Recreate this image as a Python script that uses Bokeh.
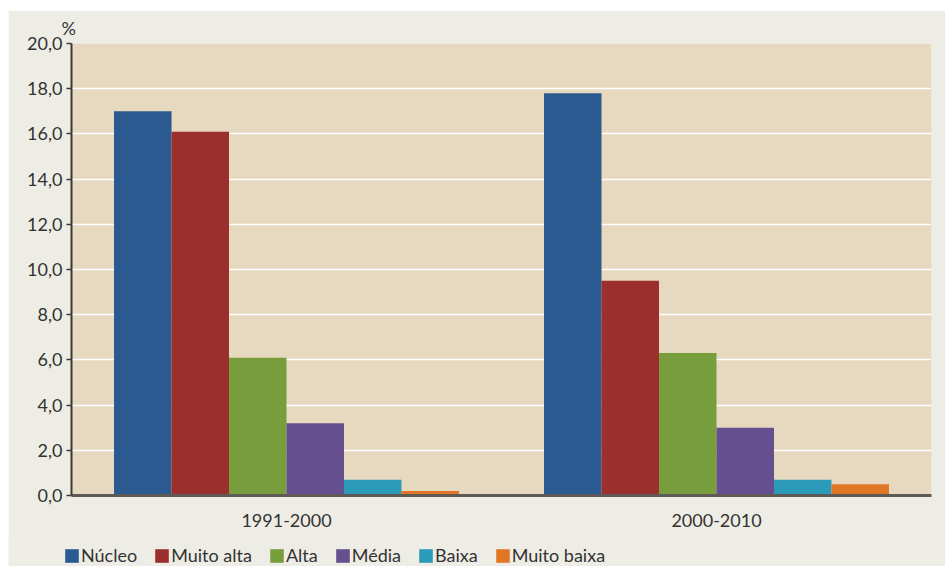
from bokeh.plotting import figure
from bokeh.models import ColumnDataSource, FactorRange, Range1d, Legend, LegendItem, Title, FixedTicker
from bokeh.transform import dodge
from bokeh.embed import file_html
from bokeh.resources import INLINE

periods = ["1991-2000", "2000-2010"]
series = ["Núcleo", "Muito alta", "Alta", "Média", "Baixa", "Muito baixa"]
nucleo = [17.0, 17.8]
muito_alta = [16.1, 9.5]
alta = [6.1, 6.3]
media = [3.2, 3.0]
baixa = [0.7, 0.7]
muito_baixa = [0.2, 0.5]
colors = ["#2A5A8F", "#9B2F2E", "#789D3D", "#654F8E", "#2B9BB9", "#E07626"]
y_ticks = [0, 2, 4, 6, 8, 10, 12, 14, 16, 18, 20]

values = [nucleo, muito_alta, alta, media, baixa, muito_baixa]
src = ColumnDataSource(dict(period=periods, **{f"s{i}": v for i, v in enumerate(values)}))

FONT = "Lato"
BG = "#EEEDE5"
p = figure(x_range=FactorRange(*periods, range_padding=0), y_range=Range1d(0, 20),
           frame_width=860, frame_height=452, margin=(10, 0, 0, 8),
           min_border_left=63, min_border_right=14, min_border_top=33, min_border_bottom=40,
           output_backend="svg", toolbar_location=None,
           background_fill_color="#E7D9BF", border_fill_color=BG, outline_line_color=None)

w = 0.1337
for i, name in enumerate(series):
    off = (i - 2.5) * w
    p.vbar(x=dodge("period", off, range=p.x_range), top=f"s{i}", width=w, source=src,
           fill_color=colors[i], line_color=None)

p.xgrid.grid_line_color = None
p.ygrid.grid_line_color = "white"
p.ygrid.grid_line_width = 1.5
p.ygrid.ticker = FixedTicker(ticks=y_ticks)

ya = p.yaxis[0]
ya.ticker = FixedTicker(ticks=y_ticks)
ya.major_label_overrides = {t: f"{t:.1f}".replace(".", ",") for t in y_ticks}
ya.axis_line_color = "#3a3a3a"
ya.axis_line_width = 2
ya.major_tick_line_color = "#3a3a3a"
ya.major_tick_line_width = 1.5
ya.major_tick_out = 5
ya.major_tick_in = 0
ya.minor_tick_line_color = None
ya.major_label_text_font = FONT
ya.major_label_text_font_size = "18px"
ya.major_label_text_color = "#333333"
ya.major_label_standoff = 4

xa = p.xaxis[0]
xa.axis_line_color = "#5f5a55"
xa.axis_line_width = 3
xa.major_tick_line_color = None
xa.minor_tick_line_color = None
xa.major_label_text_font = FONT
xa.major_label_text_font_size = "18px"
xa.major_label_text_color = "#333333"
xa.major_label_standoff = 12

p.add_layout(Title(text="%", align="left", offset=-10, standoff=9, text_font=FONT,
                   text_font_size="18px", text_font_style="normal", text_color="#333333"), "above")

# legend strip below the chart (separate root so its frame is not aligned with the chart's)
p2 = figure(width=937, height=33, margin=(-2, 0, 0, 8), min_border=0,
            x_range=Range1d(0, 1), y_range=Range1d(0, 1),
            x_axis_location=None, y_axis_location=None,
            output_backend="svg", toolbar_location=None,
            background_fill_color=BG, border_fill_color=BG, outline_line_color=None)
p2.grid.grid_line_color = None
items = []
for i, name in enumerate(series):
    r = p2.vbar(x=[-10], top=[-10], width=0.1, fill_color=colors[i], line_color=None)
    items.append(LegendItem(label=name, renderers=[r]))
legend = Legend(items=items, orientation="horizontal", location=(55, 0),
                glyph_width=17, glyph_height=17, label_standoff=1, spacing=16,
                padding=0, margin=0, border_line_color=None, background_fill_alpha=0,
                label_text_font=FONT, label_text_font_size="18px", label_text_color="#333333",
                label_height=17)
p2.add_layout(legend, "center")

open("out.html", "w").write(file_html([p, p2], INLINE))
